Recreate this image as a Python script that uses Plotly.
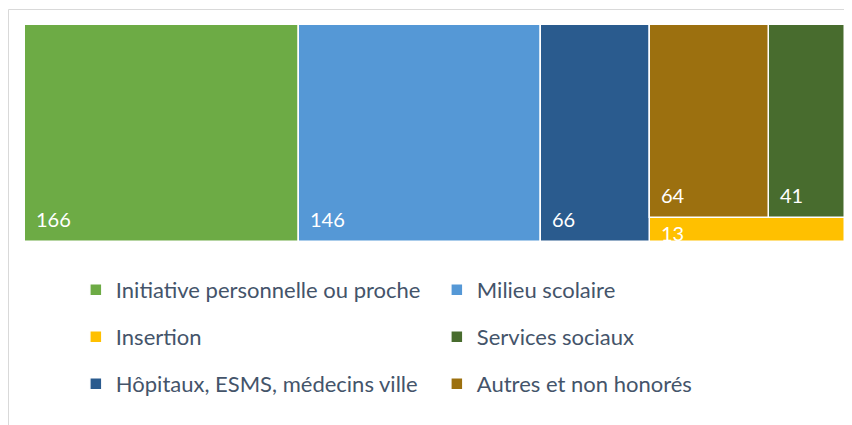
import plotly.graph_objects as go

# ---- data ----
categories = ["Initiative personnelle ou proche", "Milieu scolaire",
              "Hôpitaux, ESMS, médecins ville", "Autres et non honorés",
              "Services sociaux", "Insertion"]
values = [166, 146, 66, 64, 41, 13]
colors = ["#6DAB45", "#5598D6", "#2A5B8E", "#9C700F", "#486C2E", "#FFC000"]
# last column: top row items and bottom item
top_row = ["Autres et non honorés", "Services sociaux"]
bottom_item = "Insertion"
legend_rows = [["Initiative personnelle ou proche", "Milieu scolaire"],
               ["Insertion", "Services sociaux"],
               ["Hôpitaux, ESMS, médecins ville", "Autres et non honorés"]]

val = dict(zip(categories, values))
col = dict(zip(categories, colors))
total = sum(values)

# ---- layout computation (treemap-like) ----
rects = {}  # name -> (x0, x1, y0, y1) in data units (x: value, y: 0..1)
x = 0.0
for c in categories:
    if c in top_row or c == bottom_item:
        continue
    rects[c] = (x, x + val[c], 0.0, 1.0)
    x += val[c]
last_total = sum(val[c] for c in top_row) + val[bottom_item]
h_bottom = val[bottom_item] / last_total
rects[bottom_item] = (x, x + last_total, 0.0, h_bottom)
top_total = sum(val[c] for c in top_row)
xx = x
for c in top_row:
    w = last_total * val[c] / top_total
    rects[c] = (xx, xx + w, h_bottom, 1.0)
    xx += w

legend_of = {}
for i, row in enumerate(legend_rows):
    for c in row:
        legend_of[c] = "legend" if i == 0 else f"legend{i+1}"

fig = go.Figure()
order = [c for row in legend_rows for c in row]
for c in order:
    x0, x1, y0, y1 = rects[c]
    fig.add_trace(go.Bar(
        x=[(x0 + x1) / 2], y=[y1 - y0], base=[y0], width=[x1 - x0],
        name=c, marker=dict(color=col[c], line=dict(color="white", width=1.5)),
        legend=legend_of[c], hoverinfo="name"))

W, H = 844, 417
ML, MR, MT, MB = 17, 7, 17, 183
PLOT_W = W - ML - MR
PLOT_H = H - MT - MB
annotations = []
for c in categories:
    x0, x1, y0, y1 = rects[c]
    hpx = (y1 - y0) * PLOT_H
    if hpx > 40:
        annotations.append(dict(x=x0, y=y0, xref="x", yref="y", text=str(val[c]),
                                xanchor="left", yanchor="bottom", xshift=9, yshift=9,
                                showarrow=False, font=dict(color="white", size=20, family="Lato")))
    else:
        annotations.append(dict(x=x0, y=y1, xref="x", yref="y", text=str(val[c]),
                                xanchor="left", yanchor="top", xshift=9, yshift=-1,
                                showarrow=False, font=dict(color="white", size=20, family="Lato")))

legend_common = dict(orientation="h", xanchor="left", yanchor="middle", x=0.062,
                     entrywidth=316, entrywidthmode="pixels",
                     font=dict(family="Lato", size=22, color="#44546A"),
                     bgcolor="rgba(0,0,0,0)", traceorder="normal")

fig.update_layout(
    width=W, height=H,
    margin=dict(l=ML, r=MR, t=MT, b=MB, autoexpand=False),
    paper_bgcolor="white", plot_bgcolor="white",
    barmode="overlay", bargap=0,
    xaxis=dict(range=[0, total], visible=False, fixedrange=True),
    yaxis=dict(range=[0, 1], visible=False, fixedrange=True),
    annotations=annotations,
    legend=dict(**legend_common, y=1 - (282 - MT) / PLOT_H),
    legend2=dict(**legend_common, y=1 - (329 - MT) / PLOT_H),
    legend3=dict(**legend_common, y=1 - (376 - MT) / PLOT_H),
    shapes=[dict(type="rect", xref="paper", yref="paper",
                 x0=(0.5 - ML) / PLOT_W, x1=(W + 20 - ML) / PLOT_W,
                 y0=1 - (H + 20 - MT) / PLOT_H, y1=1 + (MT - 1.5) / PLOT_H,
                 line=dict(color="#D9D9D9", width=1), layer="below")],
)

fig.write_html("out.html")
